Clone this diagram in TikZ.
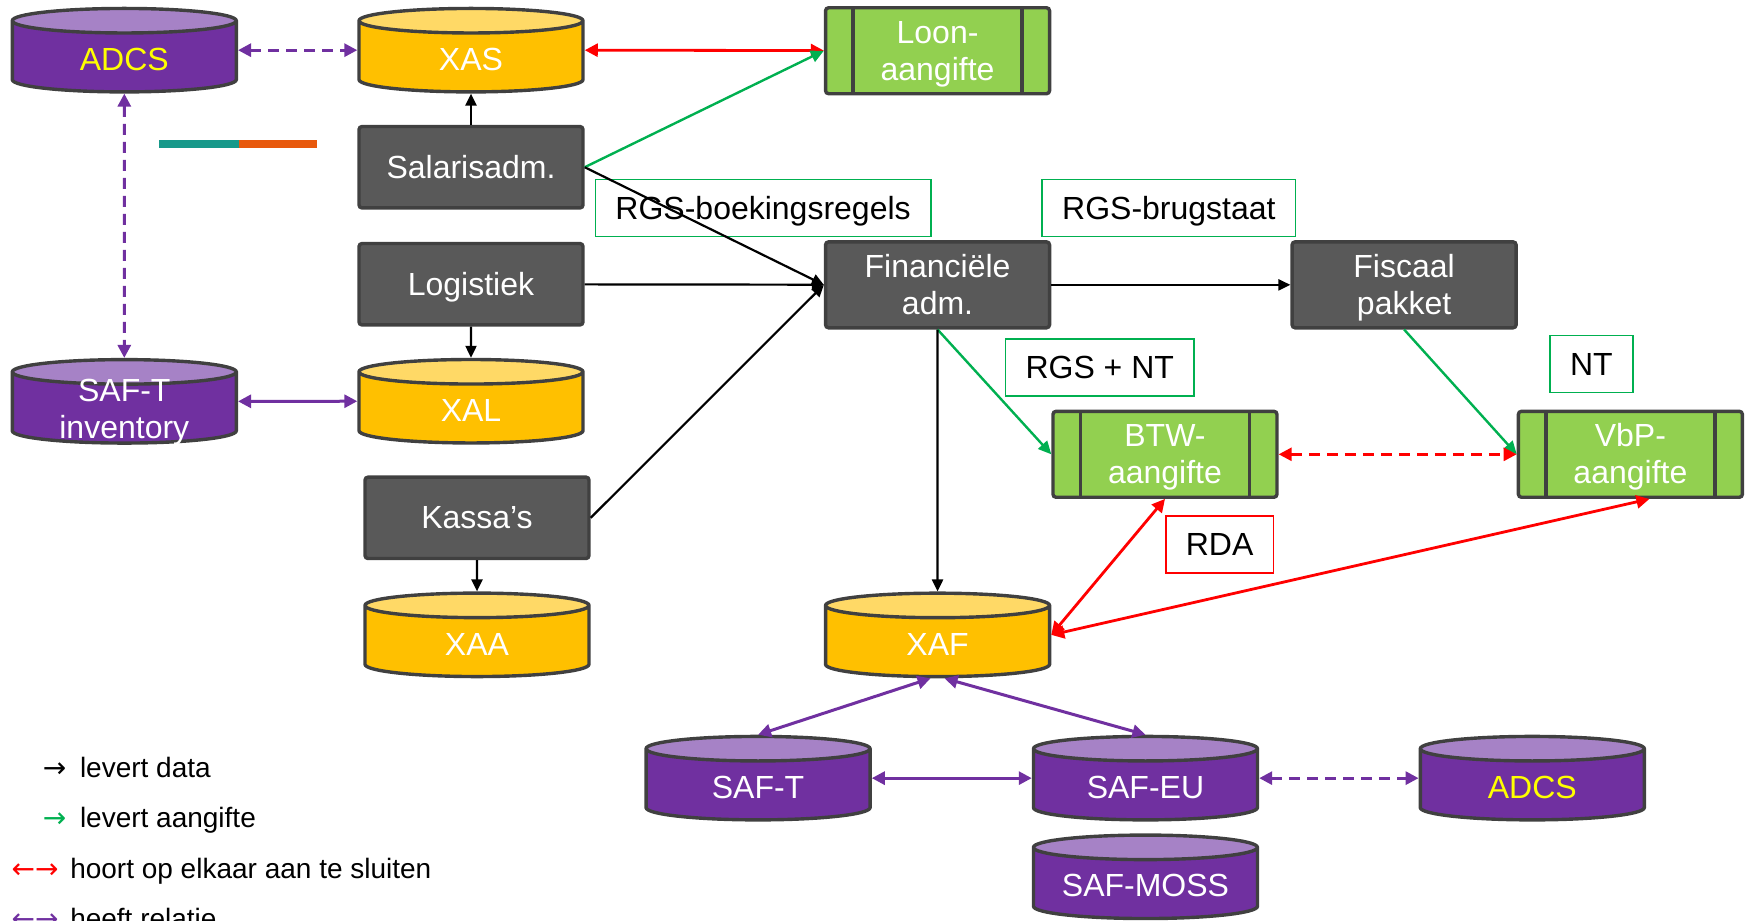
\documentclass[tikz,border=0pt]{standalone}
\usepackage{fontspec}
\setmainfont{Liberation Sans}
\newfontfamily\symfont{DejaVu Sans}
\usetikzlibrary{shapes.geometric,arrows.meta,positioning,calc}

\definecolor{boxgrey}{HTML}{595959}
\definecolor{edgegrey}{HTML}{404040}
\definecolor{dbpurple}{HTML}{7030A0}
\definecolor{dbpurpletop}{HTML}{A682C6}
\definecolor{dbyellow}{HTML}{FFC000}
\definecolor{dbyellowtop}{HTML}{FFD966}
\definecolor{formgreen}{HTML}{92D050}
\definecolor{linegreen}{HTML}{00B050}
\definecolor{linered}{HTML}{FF0000}
\definecolor{linepurple}{HTML}{7030A0}
\definecolor{adcsyellow}{HTML}{FFFF00}
\definecolor{barteal}{HTML}{17998A}
\definecolor{barorange}{HTML}{E8590C}

\begin{document}
\begin{tikzpicture}[x=0.5574pt, y=-0.5574pt, node distance=58.5pt, every node/.style={align=center, font=\fontsize{16}{18.4}\selectfont}]
        % styles
        \tikzstyle{oneline} = [text height=14.5pt, text depth=3.4pt]
        \tikzstyle{twoline} = [text height=32.9pt, text depth=3.4pt]
        \tikzstyle{app} = [rectangle, rounded corners=1.5pt, minimum width=112pt, minimum height=40.7pt, draw=edgegrey, line width=1.7pt, fill=boxgrey, text=white, oneline]
        \tikzstyle{db} = [cylinder, shape border rotate=90, aspect=0.115, anchor=shape center, minimum width=112pt, minimum height=40.7pt, draw=edgegrey, line width=1.7pt, cylinder uses custom fill, text=white, oneline,
            execute at begin node={\hbox to 100pt\bgroup\hss}, execute at end node={\hss\egroup}]
        \tikzstyle{dbp} = [db, cylinder body fill=dbpurple, cylinder end fill=dbpurpletop]
        \tikzstyle{dby} = [db, cylinder body fill=dbyellow, cylinder end fill=dbyellowtop]
        \tikzstyle{form} = [rectangle, rounded corners=1.5pt, minimum width=112pt, minimum height=41.2pt, draw=edgegrey, line width=1.7pt, fill=formgreen, text=white, twoline,
            path picture={\draw [edgegrey, line width=1.7pt] ([xshift=13.7pt]path picture bounding box.north west) -- ([xshift=13.7pt]path picture bounding box.south west);
                          \draw [edgegrey, line width=1.7pt] ([xshift=-13.7pt]path picture bounding box.north east) -- ([xshift=-13.7pt]path picture bounding box.south east);}]
        \tikzstyle{tag} = [rectangle, draw=linegreen, line width=0.8pt, fill=white, text=black, minimum height=28.4pt, inner xsep=10pt, oneline]
        \tikzstyle{feed} = [line width=1.1pt, -{Triangle[length=6pt, width=5.5pt]}, color=black]
        \tikzstyle{filing} = [line width=1.2pt, -{Triangle[length=6.5pt, width=6pt]}, color=linegreen]
        \tikzstyle{match} = [line width=1.4pt, {Triangle[length=6.5pt, width=6.5pt]}-{Triangle[length=6.5pt, width=6.5pt]}, color=linered]
        \tikzstyle{relation} = [line width=1.5pt, {Triangle[length=6.5pt, width=6.5pt]}-{Triangle[length=6.5pt, width=6.5pt]}, color=linepurple]
        \tikzstyle{gap} = [dash pattern=on 5.5pt off 3.5pt]
        \tikzstyle{legend} = [anchor=base west, inner sep=0pt, font=\fontsize{14}{16}\selectfont]

        \useasboundingbox (0,0) rectangle (1568,826);

        % nodes
        \node (adcsa) [dbp] at (111.5,45) {\textcolor{adcsyellow}{ADCS}};
        \node (xas) [dby] at (422.5,45) {XAS};
        \node (loon) [form] at (841,45.5) {Loon-\\aangifte};
        \node (sal) [app] at (422.5,150) {Salarisadm.};
        \node (log) [app, below of=sal] {Logistiek};
        \node (xal) [dby, below of=log, anchor=shape center] {XAL};
        \node (kassa) [app, below of=log, node distance=116.8pt, xshift=3pt] {Kassa’s};
        \node (xaa) [dby, below of=kassa, anchor=shape center] {XAA};
        \node (safinv) [dbp] at (111.5,360) {\begin{tabular}{@{}c@{}}SAF-T\\inventory\end{tabular}};
        \node (fin) [app, twoline] at (841,255.5) {Financiële\\adm.};
        \node (fis) [app, twoline] at (1259.5,255.5) {Fiscaal\\pakket};
        \node (btw) [form] at (1045,407.5) {BTW-\\aangifte};
        \node (vbp) [form] at (1462.5,407.5) {VbP-\\aangifte};
        \node (xaf) [dby] at (841,569.5) {XAF};
        \node (saft) [dbp] at (680,698) {SAF-T};
        \node (safeu) [dbp] at (1027.5,698) {SAF-EU};
        \node (adcsb) [dbp] at (1374.5,698) {\textcolor{adcsyellow}{ADCS}};
        \node (moss) [dbp] at (1027.5,786.5) {SAF-MOSS};

        % labels
        \node (boek) [tag] at (684.5,186.5) {RGS-boekingsregels};
        \node (brug) [tag] at (1048.5,186.5) {RGS-brugstaat};
        \node (rgsnt) [tag] at (986.5,329.5) {RGS + NT};
        \node (nt) [tag] at (1427.5,326.5) {NT};
        \node (rda) [tag, draw=linered] at (1094,488.5) {RDA};

        \fill [barteal] (143,126) rectangle (214,133);
        \fill [barorange] (214,126) rectangle (284,133);

        % connectors
        \draw [relation, gap] (adcsa.east |- adcsa.shape center) -- (xas.west |- xas.shape center);
        \draw [match] (xas.east |- xas.shape center) -- (loon);
        \draw [feed] (sal) -- (xas);
        \draw [filing] (sal.east) -- (loon.west);
        \draw [feed] (sal.east) -- (fin.west);
        \draw [feed] (log) -- (fin);
        \draw [feed] (kassa.east) -- (fin.west);
        \draw [feed] (log) -- (xal);
        \draw [feed] (kassa) -- (xaa);
        \draw [relation, gap] (adcsa) -- (safinv);
        \draw [relation] (safinv.east |- safinv.shape center) -- (xal.west |- xal.shape center);
        \draw [feed] (fin) -- (fis);
        \draw [filing] (fin.south) -- (btw.west);
        \draw [feed] (fin) -- (xaf);
        \draw [filing] (fis.south) -- (vbp.west);
        \draw [match, gap] (btw) -- (vbp);
        \draw [match] (btw.south) -- (xaf.east |- xaf.shape center);
        \draw [match] ([xshift=9.5pt]vbp.south) -- (xaf.east |- xaf.shape center);
        \draw [relation] ([xshift=-3.5pt]xaf.south) -- (saft.north);
        \draw [relation] ([xshift=3.5pt]xaf.south) -- (safeu.north);
        \draw [relation] (saft.east |- saft.shape center) -- (safeu.west |- safeu.shape center);
        \draw [relation, gap] (safeu.east |- safeu.shape center) -- (adcsb.west |- adcsb.shape center);

        % legend
        \node (lgdata) [legend] at (38,697) {{\symfont →}\hspace{3pt} levert data};
        \node (lgfiling) [legend] at (38,742) {\textcolor{linegreen}{\symfont →}\hspace{3pt} levert aangifte};
        \node (lgmatch) [legend] at (10,788) {\textcolor{linered}{\symfont ←→}\hspace{2pt} hoort op elkaar aan te sluiten};
        \node (lgrel) [legend] at (10,833) {\textcolor{linepurple}{\symfont ←→}\hspace{2pt} heeft relatie};
    \end{tikzpicture}
\end{document}
